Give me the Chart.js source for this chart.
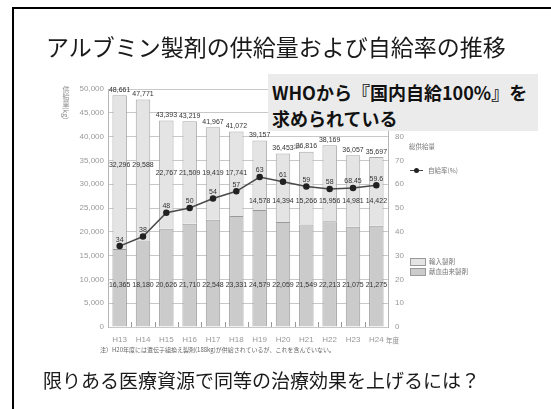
<!DOCTYPE html>
<html lang="ja">
<head>
<meta charset="utf-8">
<script src="https://cdn.jsdelivr.net/npm/chart.js@4"></script>
<style>
  html, body { margin: 0; padding: 0; background: #fff; }
  body { width: 551px; height: 409px; position: relative; overflow: hidden;
         font-family: "Noto Sans CJK JP", "Noto Sans", sans-serif; }
  #frame { position: absolute; left: 12px; top: 7px; width: 600px; height: 450px;
           border-left: 2px solid #000; border-top: 2px solid #000; }
  canvas { position: absolute; left: 0; top: 0; }
  .t { position: absolute; white-space: nowrap; line-height: 1; }
  #title { left: 46px; top: 35px; font-size: 23px; color: #1a1a1a; }
  #callout { position: absolute; left: 268px; top: 74px; width: 270px; height: 57px;
             background: #ebebeb; }
  #callout div { position: absolute; left: 4px; font-size: 18px; font-weight: bold;
                 color: #111; line-height: 1; white-space: nowrap; }
  #question { left: 43px; top: 370px; font-size: 19px; color: #1a1a1a; }
  #note { left: 100px; top: 347px; font-size: 6px; color: #666; }
  #ytitle { left: 62px; top: 86px; font-size: 7px; color: #888; writing-mode: vertical-rl; }
  #nendo { left: 386px; top: 337px; font-size: 6.5px; color: #888; }
  .lg { font-size: 6.5px; color: #777; }
  .box { position: absolute; width: 14px; height: 6px; border: 1px solid #999; }
</style>
</head>
<body>
<div id="frame"></div>
<canvas id="c" width="551" height="409"></canvas>
<div class="t" id="title">アルブミン製剤の供給量および自給率の推移</div>
<div id="callout">
  <div style="top:9px">WHOから『国内自給100%』を</div>
  <div style="top:35px">求められている</div>
</div>
<div class="t" id="ytitle">供給量(kg)</div>
<div class="t" id="nendo">年度</div>
<div class="t lg" style="left:409px;top:143px">総供給量</div>
<div style="position:absolute;left:410px;top:170px;width:13px;height:1px;background:#444"></div>
<div style="position:absolute;left:414px;top:168px;width:5px;height:5px;border-radius:50%;background:#222"></div>
<div class="t lg" style="left:428px;top:167px">自給率(%)</div>
<div class="box" style="left:410px;top:258px;background:#e4e4e4"></div>
<div class="t lg" style="left:429px;top:258px">輸入製剤</div>
<div class="box" style="left:410px;top:268px;background:#cbcbcb"></div>
<div class="t lg" style="left:429px;top:268px">献血由来製剤</div>
<div class="t" id="note">注）H20年度には遺伝子組換え製剤(188kg)が供給されているが、これを含んでいない。</div>
<div class="t" id="question">限りある医療資源で同等の治療効果を上げるには？</div>

<script>
// fiscal years (Heisei)
var years = ["H13", "H14", "H15", "H16", "H17", "H18", "H19", "H20", "H21", "H22", "H23", "H24"];
// supply in kg
var domestic = [16365, 18180, 20626, 21710, 22548, 23331, 24579, 22059, 21549, 22213, 21075, 21275];
var imported = [32296, 29588, 22767, 21509, 19419, 17741, 14578, 14394, 15266, 15956, 14981, 14422];
var totals = [48661, 47771, 43393, 43219, 41967, 41072, 39157, 36453, 36816, 38169, 36057, 35697];
// self-sufficiency rate (%)
var selfRate = [34, 38, 48, 50, 54, 57, 63, 61, 59, 58, 58.45, 59.6];
var selfRateLabels = ["34", "38", "48", "50", "54", "57", "63", "61", "59", "58", "68.45", "59.6"];
var leftTicks = [0, 5000, 10000, 15000, 20000, 25000, 30000, 35000, 40000, 45000, 50000];

var numFont = "7px 'Liberation Sans', Arial, sans-serif";

function fmt(v) { return v.toLocaleString("en-US"); }

// where the imported-segment label sits (in kg units on the left axis)
function importedLabelLevel(i) {
  if (totals[i] > 45000) return 34000;
  if (selfRate[i] < 58) return 32300;
  return 26500;
}

var labelPlugin = {
  id: "labels",
  afterDatasetsDraw: function (chart) {
    var ctx = chart.ctx;
    var x = chart.scales.x, y = chart.scales.y, y2 = chart.scales.y2;
    var area = chart.chartArea;
    ctx.save();
    // short ticks between bars along the baseline
    ctx.strokeStyle = "#999";
    ctx.lineWidth = 1;
    for (var k = 1; k < years.length; k++) {
      var bx = Math.round((x.getPixelForValue(k - 1) + x.getPixelForValue(k)) / 2) + 0.5;
      ctx.beginPath();
      ctx.moveTo(bx, area.bottom);
      ctx.lineTo(bx, area.bottom - 5);
      ctx.stroke();
    }
    ctx.font = numFont;
    ctx.fillStyle = "#333";
    ctx.textAlign = "center";
    years.forEach(function (yr, i) {
      var cx = x.getPixelForValue(i);
      ctx.textBaseline = "bottom";
      ctx.fillText(fmt(totals[i]), cx, y.getPixelForValue(totals[i]) - 2);
      if (yr === "H20") {
        ctx.save();
        ctx.font = "4.5px 'Noto Sans CJK JP', sans-serif";
        ctx.textAlign = "left";
        ctx.fillText("注)", cx + 11, y.getPixelForValue(totals[i]) - 5);
        ctx.restore();
      }
      ctx.textBaseline = "middle";
      ctx.fillText(fmt(imported[i]), cx, y.getPixelForValue(importedLabelLevel(i)));
      ctx.fillText(fmt(domestic[i]), cx, y.getPixelForValue(8800));
      ctx.textBaseline = "bottom";
      ctx.fillText(selfRateLabels[i], cx, y2.getPixelForValue(selfRate[i]) - 3);
    });
    ctx.restore();
  }
};

new Chart(document.getElementById("c"), {
  data: {
    labels: years,
    datasets: [
      {
        type: "line",
        label: "自給率(%)",
        data: selfRate,
        yAxisID: "y2",
        borderColor: "#4a4a4a",
        borderWidth: 1.5,
        pointRadius: 2.5,
        pointBackgroundColor: "#222",
        pointBorderColor: "#222",
        tension: 0,
        order: 0
      },
      {
        type: "bar",
        label: "献血由来製剤",
        data: domestic,
        yAxisID: "y",
        backgroundColor: "#cbcbcb",
        borderColor: "#9a9a9a",
        borderWidth: 1,
        barPercentage: 0.62,
        categoryPercentage: 1,
        order: 1
      },
      {
        type: "bar",
        label: "輸入製剤",
        data: imported,
        yAxisID: "y",
        backgroundColor: "#e4e4e4",
        borderColor: "#a8a8a8",
        borderWidth: 1,
        barPercentage: 0.62,
        categoryPercentage: 1,
        order: 1
      }
    ]
  },
  options: {
    responsive: false,
    animation: false,
    devicePixelRatio: 1,
    layout: { padding: { left: 0, right: 0, top: 89, bottom: 0 } },
    plugins: { legend: { display: false }, tooltip: { enabled: false } },
    scales: {
      x: {
        stacked: true,
        grid: { display: false },
        border: { display: false },
        ticks: { color: "#999", font: { size: 8, family: "'Liberation Sans', Arial" }, padding: 0 },
        afterFit: function (s) { s.height = 82; }
      },
      y: {
        position: "left",
        stacked: true,
        min: 0,
        max: 50000,
        afterBuildTicks: function (s) { s.ticks = leftTicks.map(function (v) { return { value: v }; }); },
        grid: { color: "#c8c8c8", drawTicks: false },
        border: { color: "#b5b5b5" },
        ticks: { color: "#999", font: { size: 8, family: "'Liberation Sans', Arial" }, padding: 4,
                 callback: function (v) { return fmt(v); } },
        afterFit: function (s) { s.width = 108; }
      },
      y2: {
        position: "right",
        min: 0,
        max: 100,
        grid: { drawOnChartArea: false, drawTicks: false },
        border: { color: "#b5b5b5" },
        ticks: { stepSize: 10, color: "#999", font: { size: 8, family: "'Liberation Sans', Arial" }, padding: 7,
                 callback: function (v) { return v <= 80 ? v : ""; } },
        afterFit: function (s) { s.width = 163; }
      }
    }
  },
  plugins: [labelPlugin]
});
</script>
</body>
</html>
